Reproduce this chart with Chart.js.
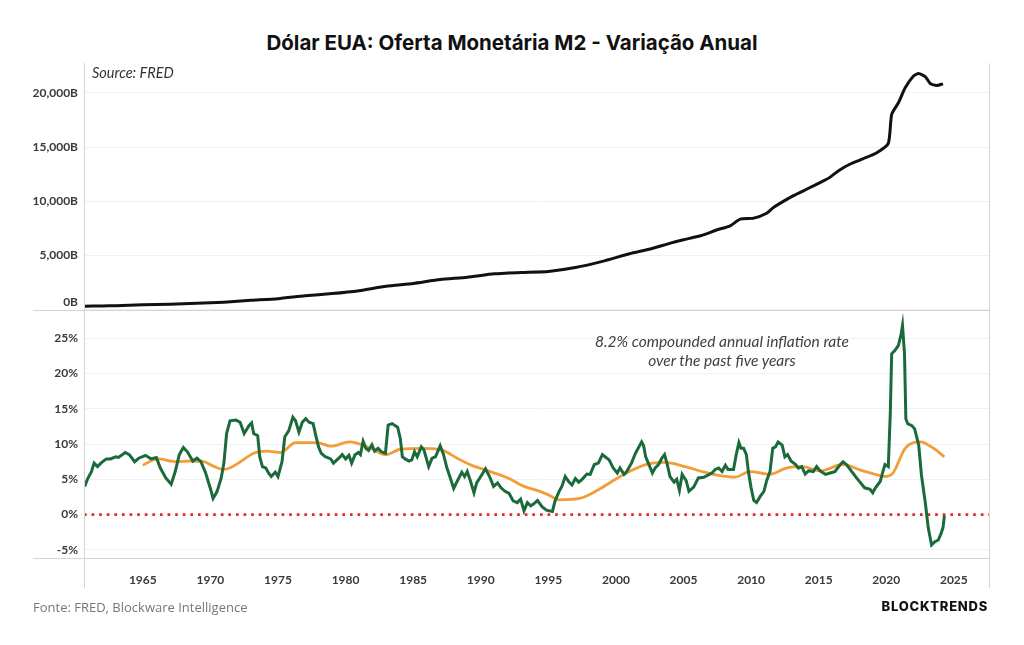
<!DOCTYPE html>
<html><head><meta charset="utf-8">
<script src="https://cdn.jsdelivr.net/npm/chart.js@4.4.1/dist/chart.umd.min.js"></script>
<style>
html,body{margin:0;padding:0;background:#fff;}
body{width:1024px;height:645px;position:relative;overflow:hidden;}
#title{position:absolute;left:0;top:30px;width:1024px;text-align:center;font:700 20.5px Inter,sans-serif;color:#111;line-height:26px;}
#topWrap{position:absolute;left:0;top:50px;}
#botWrap{position:absolute;left:0;top:300px;}
#src{position:absolute;left:92px;top:64px;font:italic 14.5px Lato,sans-serif;color:#333;}
#note{position:absolute;left:547px;top:332px;width:350px;text-align:center;font:italic 15.5px Lato,sans-serif;color:#404040;line-height:19px;}
#foot{position:absolute;left:33px;top:598px;font:400 13px "Open Sans",sans-serif;color:#777;}
#brand{position:absolute;right:36px;top:598px;font:800 13px Inter,sans-serif;color:#111;letter-spacing:0.75px;}
</style></head>
<body>
<div id="title">Dólar EUA: Oferta Monetária M2 - Variação Anual</div>
<div id="topWrap"><canvas id="top" width="1024" height="280"></canvas></div>
<div id="botWrap"><canvas id="bot" width="1024" height="300"></canvas></div>
<div id="src">Source: FRED</div>
<div id="note">8.2% compounded annual inflation rate<br>over the past five years</div>
<div id="foot">Fonte: FRED, Blockware Intelligence</div>
<div id="brand">BLOCKTRENDS</div>
<script>
// ---- data ----
const xTickYears = [1965,1970,1975,1980,1985,1990,1995,2000,2005,2010,2015,2020,2025];
const m2TickValues = [0,5000,10000,15000,20000];
const pctTickValues = [-5,0,5,10,15,20,25];
const xRange = [1960.65, 2027.6];
const m2Range = [0, 22750];
const pctRange = [-6.15, 28.55];
const zeroLevel = 0;

const m2Years = [1960.7,1962,1963,1965,1967,1969,1971,1973,1975,1977,1979,1981,1983,1985,1987,1989,1991,1993,1995,1997,1999,2001,2002.55,2003.8,2004.4,2005,2006.25,2007.5,2008.45,2009.2,2010.2,2011.15,2011.65,2013.1,2014.1,2015.35,2015.8,2016.5,2017.3,2018.3,2019.3,2020.15,2020.4,2020.9,2021.4,2022.0,2022.4,2022.9,2023.25,2023.75,2024.2];
const m2Values = [310,340,365,440,500,580,690,860,1010,1280,1480,1750,2150,2420,2780,2980,3300,3420,3520,3880,4450,5150,5600,6050,6260,6450,6815,7370,7740,8350,8445,8900,9425,10500,11110,11880,12185,12850,13420,13935,14490,15350,18025,19100,20480,21550,21800,21490,20880,20700,20845];

const growthYears = [1960.7,1960.9,1961.2,1961.4,1961.65,1961.9,1962.3,1962.6,1963.0,1963.2,1963.7,1964.0,1964.4,1964.7,1965.2,1965.6,1966.0,1966.3,1966.7,1967.1,1967.4,1967.7,1968.0,1968.3,1968.7,1969.0,1969.3,1969.65,1970.0,1970.2,1970.5,1970.8,1971.0,1971.2,1971.45,1971.9,1972.2,1972.5,1972.85,1973.05,1973.2,1973.5,1973.65,1973.85,1974.1,1974.3,1974.5,1974.8,1975.0,1975.3,1975.5,1975.8,1976.1,1976.3,1976.55,1976.8,1977.05,1977.3,1977.6,1977.8,1978.0,1978.2,1978.5,1978.9,1979.1,1979.5,1979.75,1980.0,1980.25,1980.45,1980.7,1980.95,1981.1,1981.3,1981.5,1981.7,1981.95,1982.15,1982.4,1982.65,1982.95,1983.15,1983.45,1983.6,1983.85,1984.05,1984.2,1984.4,1984.7,1984.9,1985.1,1985.3,1985.6,1985.8,1986.15,1986.4,1986.65,1987.0,1987.25,1987.5,1987.75,1988.0,1988.25,1988.6,1988.8,1989.0,1989.25,1989.5,1989.7,1990.0,1990.35,1990.65,1990.95,1991.25,1991.5,1991.8,1992.1,1992.4,1992.7,1992.95,1993.2,1993.45,1993.7,1993.9,1994.2,1994.55,1994.9,1995.15,1995.3,1995.5,1995.8,1996.0,1996.25,1996.5,1996.75,1997.0,1997.25,1997.5,1997.85,1998.1,1998.4,1998.7,1999.0,1999.2,1999.5,1999.8,2000.1,2000.3,2000.6,2000.8,2001.15,2001.45,2001.7,2001.9,2002.05,2002.2,2002.4,2002.7,2002.9,2003.15,2003.4,2003.6,2003.8,2004.0,2004.3,2004.5,2004.7,2004.9,2005.2,2005.4,2005.75,2006.1,2006.5,2007.1,2007.35,2007.6,2007.85,2008.1,2008.3,2008.7,2008.9,2009.1,2009.25,2009.45,2009.65,2009.8,2010.0,2010.2,2010.4,2010.7,2010.95,2011.15,2011.4,2011.6,2011.8,2012.0,2012.3,2012.5,2012.7,2012.95,2013.3,2013.5,2013.75,2014.0,2014.25,2014.6,2014.85,2015.1,2015.5,2015.85,2016.2,2016.6,2016.8,2017.1,2017.45,2017.8,2018.1,2018.4,2018.8,2019.0,2019.2,2019.55,2019.8,2019.9,2020.15,2020.3,2020.4,2020.65,2020.9,2021.1,2021.2,2021.35,2021.45,2021.6,2021.9,2022.1,2022.4,2022.6,2022.9,2023.1,2023.35,2023.6,2023.85,2024.05,2024.2,2024.3];
const growthValues = [4.0,5.0,6.1,7.3,6.8,7.3,7.9,7.9,8.2,8.1,8.8,8.5,7.5,8.0,8.4,7.9,8.1,6.6,5.2,4.3,6.1,8.5,9.5,8.9,7.6,8.0,7.5,5.9,3.7,2.3,3.3,5.2,7.3,11.5,13.3,13.4,13.1,11.5,12.6,13.0,11.5,11.2,8.2,6.8,6.6,5.9,5.4,6.0,5.4,7.5,11.0,11.9,13.8,13.3,11.7,13.1,13.6,13.1,12.9,11.2,9.6,8.7,8.2,7.9,7.3,8.0,8.5,7.9,8.4,7.3,8.5,8.8,8.5,10.4,9.4,9.1,9.9,9.0,9.4,8.9,8.7,12.7,12.9,12.7,12.4,10.8,8.2,7.9,7.6,7.75,8.9,8.2,9.6,9.15,6.8,8.0,8.2,9.75,8.5,6.6,5.2,3.7,4.7,6.0,5.4,6.1,4.7,3.1,4.5,5.4,6.5,5.4,4.0,4.5,3.8,3.3,3.0,1.95,1.7,2.2,0.55,1.7,1.25,1.5,2.0,1.1,0.6,0.5,0.45,1.95,3.3,4.0,5.4,4.7,4.2,5.1,4.6,5.0,5.75,5.7,7.1,7.3,8.5,8.2,7.75,6.6,5.9,6.6,5.7,6.1,7.3,8.7,9.6,10.3,9.75,8.2,7.3,5.9,6.6,7.1,8.0,8.5,7.1,5.4,4.6,5.0,3.45,5.7,4.8,3.3,3.9,5.2,5.3,5.9,6.4,6.6,6.1,7.0,6.4,6.4,8.5,10.2,9.4,9.4,8.5,6.1,3.8,2.0,1.7,2.65,3.3,4.8,6.1,9.4,9.6,10.3,9.85,8.2,8.5,7.6,7.1,6.6,6.8,5.75,6.2,6.1,6.8,6.2,5.7,5.9,6.1,7.1,7.5,7.0,6.1,5.2,4.5,3.8,3.6,3.1,3.8,4.7,6.4,7.1,6.8,14.5,22.8,23.3,24.0,25.6,26.8,22.8,13.55,12.85,12.6,12.15,9.85,5.65,1.5,-1.8,-4.3,-3.85,-3.6,-2.7,-1.8,-0.15];

const avgYears = [1965.0,1966.1,1967.5,1968.5,1969.5,1970.3,1971.0,1972.0,1973.2,1974.2,1975.2,1976.3,1977.9,1978.9,1980.3,1981.8,1983.0,1984.1,1985.8,1987.2,1988.25,1989.25,1990.7,1992.0,1993.2,1994.4,1995.2,1995.8,1997.3,1998.5,1999.7,2001.0,2002.2,2003.65,2005.1,2006.4,2007.5,2008.8,2009.9,2011.4,2012.6,2013.8,2015.1,2016.8,2018.1,2019.0,2020.0,2020.5,2021.4,2022.5,2023.5,2024.3];
const avgValues = [7.0,7.9,7.5,7.6,7.5,6.8,6.4,7.2,8.7,9.0,8.8,10.2,10.2,9.7,10.3,9.45,8.5,9.3,9.4,9.1,8.0,7.05,6.1,5.2,4.0,3.3,2.6,2.1,2.3,3.3,4.7,6.1,7.1,7.4,6.8,6.1,5.6,5.3,6.1,5.7,6.6,6.8,6.2,7.1,6.3,5.8,5.4,5.9,9.4,10.3,9.4,8.2];

// ---- helpers ----
const pts = (xs, ys) => xs.map((x,i)=>({x, y: ys[i]}));
const tickFont = {family:'Lato', weight:'bold', size:12};
const tickColor = '#3a3a3a';
const lineColor = '#d4d4d4';

function framePlugin(extendTop, extendBottom){
  return {
    id:'frame',
    afterDraw(chart){
      const {ctx, chartArea:a} = chart;
      ctx.save();
      ctx.strokeStyle = lineColor; ctx.lineWidth = 1;
      ctx.beginPath();
      ctx.moveTo(33, Math.round(a.bottom)+0.5); ctx.lineTo(a.right, Math.round(a.bottom)+0.5);
      const t = extendTop === null ? a.top : extendTop;
      ctx.moveTo(Math.round(a.left)+0.5, t); ctx.lineTo(Math.round(a.left)+0.5, extendBottom);
      ctx.moveTo(Math.round(a.right)+0.5, t); ctx.lineTo(Math.round(a.right)+0.5, extendBottom);
      ctx.stroke();
      ctx.restore();
    }
  };
}

const xScaleBase = {
  type:'linear', min:xRange[0], max:xRange[1],
  grid:{display:false}, border:{display:false},
  afterBuildTicks: s => { s.ticks = xTickYears.map(v=>({value:v})); }
};

// ---- top chart ----
new Chart(document.getElementById('top'), {
  type:'line',
  data:{ datasets:[{
    data: pts(m2Years, m2Values), borderColor:'#111', borderWidth:3,
    pointRadius:0, tension:0.2, fill:false
  }]},
  options:{
    responsive:false, animation:false,
    layout:{padding:{top:12, right:35, left:0, bottom:0}},
    plugins:{legend:{display:false}, tooltip:{enabled:false}},
    scales:{
      x:{...xScaleBase, display:false},
      y:{
        min:m2Range[0], max:m2Range[1],
        afterBuildTicks: s => { s.ticks = m2TickValues.map(v=>({value:v})); },
        afterFit: s => { s.width = 84; },
        grid:{color:'#f1f1f1', drawTicks:false}, border:{display:false},
        ticks:{font:tickFont, color:tickColor, padding:6,
          callback: v => v === 0 ? ['0B',''] : v.toLocaleString('en-US') + 'B'}
      }
    }
  },
  plugins:[framePlugin(null, 280)]
});

// ---- bottom chart ----
new Chart(document.getElementById('bot'), {
  type:'line',
  data:{ datasets:[
    { data: pts(growthYears, growthValues), borderColor:'#1b6a3b', borderWidth:3,
      pointRadius:0, tension:0, fill:false, order:1 },
    { data: pts(avgYears, avgValues), borderColor:'#f29d38', borderWidth:2.8,
      pointRadius:0, cubicInterpolationMode:'monotone', fill:false, order:2 },
    { data: pts(xRange, [zeroLevel, zeroLevel]), borderColor:'#dc2a2a', borderWidth:2.6,
      borderDash:[2.6,5], pointRadius:0, fill:false, order:3 }
  ]},
  options:{
    responsive:false, animation:false,
    layout:{padding:{top:9, right:35, left:0, bottom:0}},
    plugins:{legend:{display:false}, tooltip:{enabled:false}},
    scales:{
      x:{...xScaleBase,
        afterFit: s => { s.height = 42; },
        ticks:{font:tickFont, color:tickColor, padding:7, autoSkip:false, maxRotation:0,
          callback: v => String(v)}
      },
      y:{
        min:pctRange[0], max:pctRange[1],
        afterBuildTicks: s => { s.ticks = pctTickValues.map(v=>({value:v})); },
        afterFit: s => { s.width = 84; },
        grid:{color:'#f1f1f1', drawTicks:false}, border:{display:false},
        ticks:{font:tickFont, color:tickColor, padding:6, callback: v => v + '%'}
      }
    }
  },
  plugins:[framePlugin(0, 288)]
});
</script>
</body></html>
